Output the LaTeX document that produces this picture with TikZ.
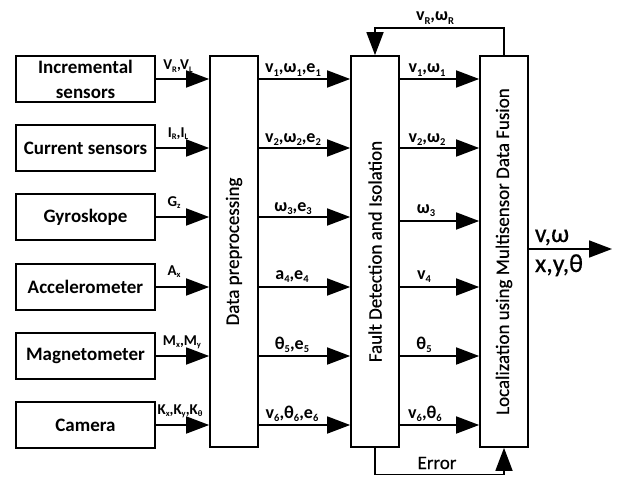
\documentclass[tikz,border=0pt]{standalone}
\usepackage{fontspec}
\setmainfont{Carlito}
\newfontfamily\medfont[FakeBold=0.5]{Carlito}
\usetikzlibrary{arrows.meta}
\newcommand{\sbs}[1]{\raisebox{-0.4ex}{\fontsize{10.5}{11}\selectfont #1}}
\newcommand{\sbi}[1]{\raisebox{-0.4ex}{\fontsize{8.5}{9}\selectfont #1}}
\tikzset{
  x=1pt,y=-1pt,
  every node/.style={font=\bfseries},
  blockbox/.style={draw=black,line width=1.7pt,fill=white,inner sep=0pt,align=center,font=\fontsize{19}{25}\selectfont\bfseries},
  sensor/.style={blockbox,minimum width=139pt,minimum height=46pt},
  tallbox/.style={blockbox,minimum width=48pt,minimum height=391pt},
  vtext/.style={rotate=90,font=\fontsize{19}{22}\selectfont\medfont},
  wire/.style={line width=1.7pt,draw=black},
  flow/.style={wire,-{Triangle[length=23pt,width=17pt]}},
  lbl/.style={inner sep=0pt,anchor=base,font=\fontsize{18}{20}\selectfont\bfseries},
  slbl/.style={inner sep=0pt,anchor=base,font=\fontsize{15}{16}\selectfont\bfseries},
}
\begin{document}
\begin{tikzpicture}
\useasboundingbox (0,0) rectangle (617,476);
% sensors
\node[sensor] (s1) at (85.5,79) {Incremental\\sensors};
\node[sensor] (s2) at (85.5,148) {Current sensors};
\node[sensor] (s3) at (85.5,217) {Gyroskope};
\node[sensor] (s4) at (85.5,287) {Accelerometer};
\node[sensor] (s5) at (85.5,356) {Magnetometer};
\node[sensor] (s6) at (85.5,425) {Camera};
% tall blocks
\node[tallbox] (pre) at (234,251.5) {};
\node[tallbox] (fdi) at (375,251.5) {};
\node[tallbox] (loc) at (504,251.5) {};
\node[vtext] at (pre.center) {Data preprocessing};
\node[vtext] at (fdi.center) {Fault Detection and Isolation};
\node[vtext] at (loc.center) {Localization using Multisensor Data Fusion};
% sensor inputs
\foreach \i in {1,...,6} \draw[flow] (s\i) -- (pre.west |- s\i);
\foreach \i in {1,2,3,4,5,6} \draw[flow] (pre.east |- s\i) -- (fdi.west |- s\i);
\foreach \i in {1,2,4,5,6} \draw[flow] (fdi.east |- s\i) -- (loc.west |- s\i);
\coordinate (r3) at (375,221);
\draw[flow] (fdi.east |- r3) -- (loc.west |- r3);
% output
\coordinate (out) at (612,249);
\draw[flow] (loc.east |- out) -- (out);
% feedback
\coordinate (topy) at (440,28);
\draw[flow] (loc.north) |- (topy) -| (fdi.north);
\coordinate (boty) at (440,474.5);
\draw[flow] (fdi.south) |- (boty) -| (loc.south);
% input labels
\node[slbl] at (178,70) {V\sbi{R},V\sbi{L}};
\node[slbl] at (178,137) {I\sbi{R},I\sbi{L}};
\node[slbl] at (174,206) {G\sbi{z}};
\node[slbl] at (174,275) {A\sbi{x}};
\node[slbl] at (182,345) {M\sbi{x},M\sbi{y}};
\node[slbl] at (180,414) {K\sbi{x},K\sbi{y},K\sbi{θ}};
% mid labels
\node[lbl] at (293,73) {v\sbs{1},ω\sbs{1},e\sbs{1}};
\node[lbl] at (293,142) {v\sbs{2},ω\sbs{2},e\sbs{2}};
\node[lbl] at (293,211) {ω\sbs{3},e\sbs{3}};
\node[lbl] at (292,279) {a\sbs{4},e\sbs{4}};
\node[lbl] at (292,349) {θ\sbs{5},e\sbs{5}};
\node[lbl] at (292,418) {v\sbs{6},θ\sbs{6},e\sbs{6}};
% right labels
\node[lbl] at (427,73) {v\sbs{1},ω\sbs{1}};
\node[lbl] at (427,142) {v\sbs{2},ω\sbs{2}};
\node[lbl] at (426,213) {ω\sbs{3}};
\node[lbl] at (424,279) {v\sbs{4}};
\node[lbl] at (424,349) {θ\sbs{5}};
\node[lbl] at (425,418) {v\sbs{6},θ\sbs{6}};
\node[lbl] at (435,21) {v\sbs{R},ω\sbs{R}};
\node[inner sep=0pt,anchor=base,font=\fontsize{19}{22}\selectfont\medfont] at (437,469) {Error};
% output labels
\node[inner sep=0pt,anchor=base,font=\fontsize{26}{28}\selectfont\medfont] at (552,242) {v,ω};
\node[inner sep=0pt,anchor=base,font=\fontsize{26}{28}\selectfont\medfont] at (559,272) {x,y,θ};
\end{tikzpicture}
\end{document}
